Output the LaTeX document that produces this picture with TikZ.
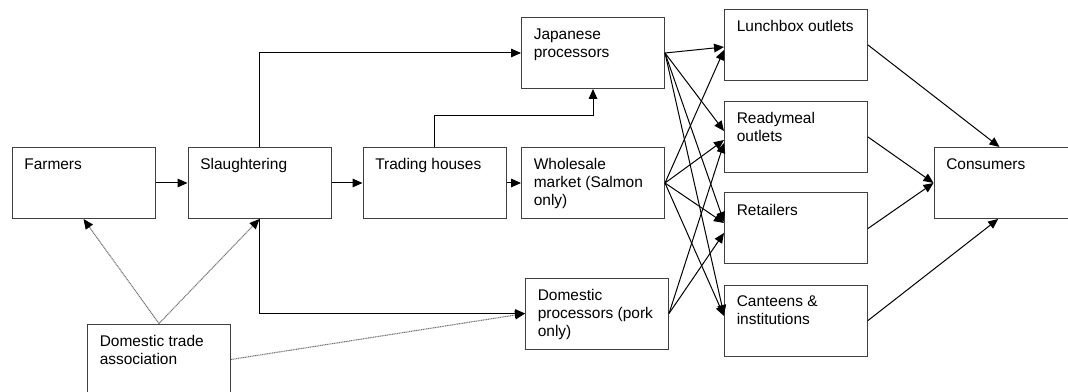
\documentclass[tikz,border=0pt]{standalone}
\usepackage{fontspec}
\setmainfont{Liberation Sans}
\usetikzlibrary{arrows.meta,calc}

\tikzset{
  stage/.style={draw=black!75, line width=0.75pt, rectangle, inner sep=0pt,
    minimum width=107.25pt, minimum height=53.25pt},
  lbl/.style={anchor=north west, inner sep=0pt, align=left,
    xshift=9.4pt, yshift=-8.4pt, font=\fontsize{11.6}{13.6}\selectfont},
  flow/.style={draw=black, line width=0.75pt,
    -{Triangle[length=7.5pt,width=6.5pt]}},
  assoc/.style={draw=black!55, line width=0.8pt, dash pattern=on 0.8pt off 0.5pt,
    -{Triangle[length=7.5pt,width=6.5pt,black]}}
}

\begin{document}
\begin{tikzpicture}[x=0.75pt, y=-0.75pt]
\useasboundingbox (0,0) rectangle (1068,392);
\begin{scope}
\clip (0,0) rectangle (1068,392);

% upstream stages
\node[stage, label={[lbl]north west:Farmers}]            (farm) at (83.5,183) {};
\node[stage, label={[lbl]north west:Slaughtering}]       (slau) at (259.5,183) {};
\node[stage, label={[lbl]north west:Trading houses}]     (trad) at (434.5,183) {};
\node[stage, label={[lbl]north west:{Wholesale\\market (Salmon\\only)}}] (whol) at (593,183) {};
\node[stage, label={[lbl]north west:{Japanese\\processors}}] (jap) at (593,53) {};
\node[stage, label={[lbl]north west:{Domestic\\processors (pork\\only)}}] (dom) at (597,313.5) {};
\node[stage, label={[lbl]north west:{Domestic trade\\association}}] (dta) at (159,359.5) {};

% outlets
\node[stage, label={[lbl]north west:Lunchbox outlets}]   (lunch) at (796,45) {};
\node[stage, label={[lbl]north west:{Readymeal\\outlets}}] (ready) at (796,137) {};
\node[stage, label={[lbl]north west:Retailers}]          (ret) at (796,228.5) {};
\node[stage, label={[lbl]north west:{Canteens \&\\institutions}}] (cant) at (796,320.5) {};

% final demand
\node[stage, label={[lbl]north west:Consumers}]          (cons) at (1005.5,183) {};

% main chain
\draw[flow] (farm.east) -- (slau.west);
\draw[flow] (slau.east) -- (trad.west);
\draw[flow] (trad.east) -- (whol.west);
\draw[flow] (slau.north) |- (jap.west);
\draw[flow] (slau.south) |- (dom.west);
\draw[flow] (trad.north) -- ++(0,-31) -| (jap.south);

% processors and market to outlets
\draw[flow] (jap.east) -- ($(lunch.west)+(0,2)$);
\draw[flow] (jap.east) -- ($(ready.west)+(0,-6)$);
\draw[flow] (jap.east) -- ($(ret.west)+(0,-6.5)$);
\draw[flow] (jap.east) -- ($(cant.west)+(0,-5.5)$);
\draw[flow] (whol.east) -- ($(lunch.west)+(0,5)$);
\draw[flow] (whol.east) -- ($(ready.west)+(0,3)$);
\draw[flow] (whol.east) -- ($(ret.west)+(0,-5.5)$);
\draw[flow] (whol.east) -- ($(cant.west)+(0,-4.5)$);
\draw[flow] (dom.east) -- ($(ready.west)+(0,6)$);
\draw[flow] (dom.east) -- ($(ret.west)+(0,4.5)$);

% outlets to consumers
\draw[flow] (lunch.east) -- ([xshift=-4.5pt]cons.north);
\draw[flow] (ready.east) -- (cons.west);
\draw[flow] (ret.east) -- (cons.west);
\draw[flow] (cant.east) -- ([xshift=-5.5pt]cons.south);

% association links
\draw[assoc] (dta.north) -- (farm.south);
\draw[assoc] (dta.north) -- (slau.south);
\draw[assoc] (dta.east) -- (dom.west);
\end{scope}
\end{tikzpicture}
\end{document}
